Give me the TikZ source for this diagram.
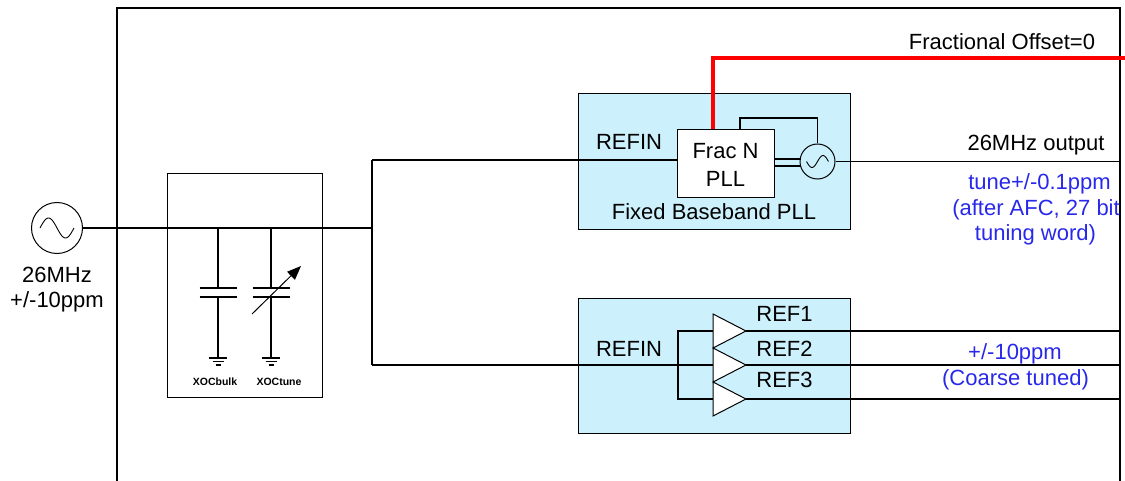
\documentclass[tikz,border=0pt]{standalone}
\usepackage{fontspec}
\setmainfont{Liberation Sans}
\usetikzlibrary{arrows.meta,calc}
\definecolor{boxfill}{RGB}{204,241,252}
\definecolor{lblue}{RGB}{40,40,235}
\definecolor{lred}{RGB}{255,0,0}
\begin{document}
\begin{tikzpicture}[x=1pt,y=-1pt,line width=1.2pt,
  lbl/.style={font=\fontsize{22}{26}\selectfont,inner sep=0pt,anchor=base},
  blbl/.style={lbl,text=lblue},
  tiny/.style={font=\bfseries\fontsize{10.5}{12}\selectfont,inner sep=0pt},
  blk/.style={draw,line width=1.3pt,inner sep=0pt,anchor=north west},
  src/.style={draw,circle,inner sep=0pt,line width=1pt},
  wave/.style={line width=0.9pt},
  redline/.style={draw=lred,line width=4.2pt},
  gnd/.style={line width=1.1pt}]
\useasboundingbox (0,0) rectangle (1125,481);
% outer frame
\draw (117,481) -- (117,8) -- (1120,8) -- (1120,481);
% source oscillator
\node[src,minimum size=51] (osc) at (57,228) {};
\draw[wave,shift={(osc.center)}] plot[domain=-1:1,samples=40,smooth] ({17*\x},{10*sin(180*\x)});
\node[lbl] (f26) at (57,282.5) {26MHz};
\node[lbl] (ppm) at (57,307.5) {+/-10ppm};
% capacitor box
\node[blk,minimum width=155,minimum height=224] (capbox) at (167,173) {};
\coordinate (jn) at (372,228);
\coordinate (jt) at (372,160);
\coordinate (jb) at (372,365);
\draw (osc.east) -- (jn);
\draw (jt) -- (jb);
% capacitors
\foreach \cx/\nm in {218/bulk,271/tune}{
  \coordinate (tap\nm) at (\cx,228);
  \coordinate (g\nm) at (\cx,358);
  \draw (tap\nm) -- (\cx,288);
  \draw (\cx-18.5,288) -- (\cx+18.5,288);
  \draw (\cx-18.5,297) -- (\cx+18.5,297);
  \draw (\cx,297) -- (g\nm);
  \draw[gnd] ($(g\nm)+(-9,0)$) -- ($(g\nm)+(9,0)$);
  \draw[gnd] ($(g\nm)+(-5.5,3.5)$) -- ($(g\nm)+(5.5,3.5)$);
  \draw[gnd] ($(g\nm)+(-2.5,7)$) -- ($(g\nm)+(2.5,7)$);
}
\draw[line width=1pt,-{Triangle[length=14pt,width=11pt]}] (252,314) -- (301,266);
\node[tiny] (xbulk) at (215,382) {XOCbulk};
\node[tiny] (xtune) at (279,382) {XOCtune};
% upper PLL block
\node[blk,fill=boxfill,minimum width=272,minimum height=136] (pll) at (578,93) {};
\node[blk,fill=white,minimum width=97,minimum height=68] (frac) at (677,129) {};
\node[font=\fontsize{22}{28}\selectfont,align=center,inner sep=0pt] (fractxt) at (725.5,164.5) {Frac N\\PLL};
\node[lbl] (refin1) at (629,150) {REFIN};
\node[lbl] (fbpll) at (714,220) {Fixed Baseband PLL};
\node[src,minimum size=35] (vco) at (817.5,161.5) {};
\draw[wave,shift={(vco.center)}] plot[domain=-1:1,samples=30,smooth] ({11*\x},{-6*sin(180*\x)});
\draw (jt) -- (jt -| frac.west);
\draw (frac.east |- 0,159) -- (800.5,159);
\draw (frac.east |- 0,166) -- (800.5,166);
\coordinate (fbk) at (740,118);
\draw ($(frac.north west)+(63,0)$) -- (fbk) -- (fbk -| vco) -- (vco.north);
\coordinate (outpll) at (1120,161.5);
\draw (vco.east) -- (outpll);
\coordinate (redc) at (713,58);
\coordinate (rede) at (1125,58);
\draw[redline] ($(frac.north west)+(36,0)$) -- (redc) -- (rede);
\node[lbl] (fracoff) at (1002,50) {Fractional Offset=0};
\node[lbl] (out26) at (1036,151) {26MHz output};
\node[blbl] (tune1) at (1039.5,190) {tune+/-0.1ppm};
\node[blbl] (tune2) at (1036,216) {(after AFC, 27 bit};
\node[blbl] (tune3) at (1035.5,241) {tuning word)};
% lower REF block
\node[blk,fill=boxfill,minimum width=272,minimum height=135] (refbox) at (578,298) {};
\node[lbl] (refin2) at (629,356) {REFIN};
\foreach \i/\yt in {1/314,2/348,3/382}{
  \coordinate (ta\i) at (713,\yt);
  \coordinate (tb\i) at (713,\yt+34);
  \coordinate (tip\i) at (746,\yt+17);
  \coordinate (tin\i) at (713,\yt+17);
  \coordinate (to\i) at (1120,\yt+17);
}
\coordinate (br1) at (678,331);
\coordinate (br3) at (678,399);
\draw (jb) -- (tin2);
\draw (tin1) -- (br1) -- (br3) -- (tin3);
\foreach \i in {1,2,3}{
  \draw[fill=white,line width=1pt,line join=miter] (ta\i) -- (tip\i) -- (tb\i) -- cycle;
  \draw (tip\i) -- (to\i);
}
\node[lbl] (ref1) at (784.5,321) {REF1};
\node[lbl] (ref2) at (784.5,356) {REF2};
\node[lbl] (ref3) at (784.5,387) {REF3};
\node[blbl] (coarse1) at (1015,359.5) {+/-10ppm};
\node[blbl] (coarse2) at (1015.5,385) {(Coarse tuned)};
\end{tikzpicture}
\end{document}
